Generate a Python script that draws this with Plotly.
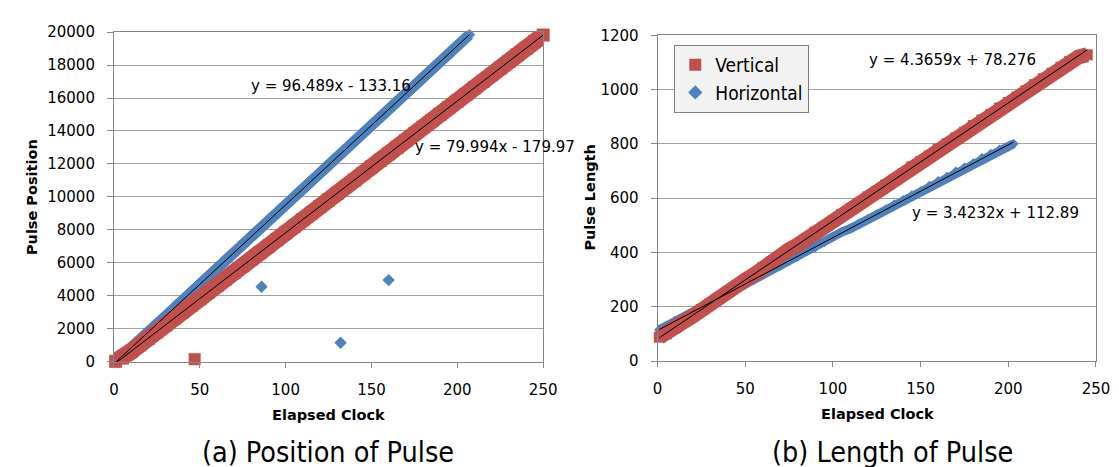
import numpy as np
import plotly.graph_objects as go

W, H = 1119, 467
RED = "#C0504D"
BLUE = "#4F81BD"

# ---------------- data: (a) Position of Pulse ----------------
pos_v_clock = [1, 5, 10, 15, 20, 25, 30, 35, 40, 45, 50, 55, 60, 65, 70, 75, 80, 85, 90, 95,
               100, 105, 110, 115, 120, 125, 130, 135, 140, 145, 150, 155, 160, 165, 170, 175,
               180, 185, 190, 195, 200, 205, 210, 215, 220, 225, 230, 235, 240, 245, 250]
pos_v_value = [20, 220, 620, 1020, 1420, 1820, 2220, 2620, 3020, 3420, 3820, 4220, 4620, 5020,
               5420, 5820, 6220, 6620, 7020, 7420, 7820, 8220, 8620, 9020, 9420, 9820, 10220,
               10620, 11020, 11420, 11820, 12220, 12620, 13020, 13420, 13820, 14220, 14620,
               15020, 15420, 15820, 16220, 16620, 17020, 17420, 17820, 18220, 18620, 19020,
               19420, 19820]
pos_h_clock = [1, 5, 10, 15, 20, 25, 30, 35, 40, 45, 50, 55, 60, 65, 70, 75, 80, 85, 90, 95,
               100, 105, 110, 115, 120, 125, 130, 135, 140, 145, 150, 155, 160, 165, 170, 175,
               180, 185, 190, 195, 200, 205, 207]
pos_h_value = [0, 350, 830, 1315, 1800, 2280, 2760, 3245, 3725, 4210, 4690, 5175, 5660, 6140,
               6620, 7100, 7590, 8070, 8550, 9030, 9515, 10000, 10480, 10960, 11445, 11930,
               12410, 12890, 13375, 13860, 14340, 14820, 15305, 15790, 16270, 16750, 17235,
               17720, 18200, 18680, 19165, 19650, 19840]
pos_v_out_clock = [47]
pos_v_out_value = [150]
pos_h_out_clock = [86, 132, 160]
pos_h_out_value = [4550, 1150, 4950]

# ---------------- data: (b) Length of Pulse ----------------
len_v_clock = [1, 5, 10, 15, 20, 25, 30, 35, 40, 45, 50, 55, 60, 65, 70, 75, 80, 85, 90, 95,
               100, 105, 110, 115, 120, 125, 130, 135, 140, 145, 150, 155, 160, 165, 170, 175,
               180, 185, 190, 195, 200, 205, 210, 215, 220, 225, 230, 235, 240, 245]
len_v_value = [88, 100, 122, 145, 165, 190, 210, 232, 255, 275, 298, 318, 344, 365, 385, 410,
               428, 450, 475, 495, 515, 540, 560, 580, 605, 625, 648, 668, 690, 715, 735, 755,
               780, 800, 822, 843, 867, 888, 908, 932, 952, 973, 995, 1018, 1040, 1060, 1082,
               1103, 1120, 1128]
len_h_clock = [1, 5, 10, 15, 20, 25, 30, 35, 40, 45, 50, 55, 60, 65, 70, 75, 80, 85, 90, 95,
               100, 105, 110, 115, 120, 125, 130, 135, 140, 145, 150, 155, 160, 165, 170, 175,
               180, 185, 190, 195, 200, 203]
len_h_value = [115, 128, 148, 163, 180, 198, 215, 232, 250, 265, 283, 300, 318, 335, 352, 368,
               385, 405, 420, 438, 458, 475, 488, 505, 523, 540, 557, 577, 592, 610, 625, 645,
               662, 678, 697, 712, 728, 747, 763, 778, 790, 800]

eq_labels = ["y = 96.489x - 133.16", "y = 79.994x - 179.97",
             "y = 4.3659x + 78.276", "y = 3.4232x + 112.89"]
series_names = ["Vertical", "Horizontal"]
captions = ["(a) Position of Pulse", "(b) Length of Pulse"]
x_ticks = [0, 50, 100, 150, 200, 250]
pos_ticks = [0, 2000, 4000, 6000, 8000, 10000, 12000, 14000, 16000, 18000, 20000]
len_ticks = [0, 200, 400, 600, 800, 1000, 1200]


def px(x):
    return x / W


def py(y):
    return 1 - y / H


fig = go.Figure()


def band(x, y, color, symbol, size, lw, xa, ya):
    fig.add_trace(go.Scatter(x=x, y=y, mode="lines+markers", xaxis=xa, yaxis=ya,
                             line=dict(color=color, width=lw),
                             marker=dict(color=color, symbol=symbol, size=size),
                             showlegend=False, cliponaxis=False, hoverinfo="skip"))


def trend(x, y, xa, ya):
    a, b = np.polyfit(x, y, 1)
    xs = np.array([min(x), max(x)], dtype=float)
    fig.add_trace(go.Scatter(x=xs, y=a * xs + b, mode="lines", xaxis=xa, yaxis=ya,
                             line=dict(color="black", width=1), showlegend=False,
                             cliponaxis=False, hoverinfo="skip"))


# (a)
band(pos_h_clock, pos_h_value, BLUE, "diamond", 9, 11, "x", "y")
fig.add_trace(go.Scatter(x=pos_h_out_clock, y=pos_h_out_value, mode="markers",
                         marker=dict(color=BLUE, symbol="diamond", size=9.5),
                         showlegend=False, cliponaxis=False, xaxis="x", yaxis="y"))
band(pos_v_clock, pos_v_value, RED, "square", 13, 17, "x", "y")
fig.add_trace(go.Scatter(x=pos_v_out_clock, y=pos_v_out_value, mode="markers",
                         marker=dict(color=RED, symbol="square", size=12),
                         showlegend=False, cliponaxis=False, xaxis="x", yaxis="y"))
trend(pos_h_clock, pos_h_value, "x", "y")
trend(pos_v_clock, pos_v_value, "x", "y")

# (b)
band(len_h_clock, len_h_value, BLUE, "diamond", 8, 9, "x2", "y2")
band(len_v_clock, len_v_value, RED, "square", 11, 15, "x2", "y2")
trend(len_h_clock, len_h_value, "x2", "y2")
trend(len_v_clock, len_v_value, "x2", "y2")

# legend entries
fig.add_trace(go.Scatter(x=[None], y=[None], mode="markers", name=series_names[0],
                         marker=dict(color=RED, symbol="square", size=12),
                         xaxis="x2", yaxis="y2", legendrank=1))
fig.add_trace(go.Scatter(x=[None], y=[None], mode="markers", name=series_names[1],
                         marker=dict(color=BLUE, symbol="diamond", size=11),
                         xaxis="x2", yaxis="y2", legendrank=2))

TICKFONT = dict(family="DejaVu Sans", size=15, color="black")
GRID = "#a0a0a0"
LINE = "#868686"

xcommon = dict(range=[0, 250], tickvals=x_ticks, ticktext=[str(v) for v in x_ticks],
               showgrid=False, zeroline=False,
               showline=True, linecolor=LINE, linewidth=1, mirror=True,
               ticks="outside", ticklen=5, tickcolor=LINE, tickfont=TICKFONT,
               ticklabelstandoff=9, fixedrange=True)
ycommon = dict(showgrid=True, gridcolor=GRID, gridwidth=1, zeroline=False,
               showline=True, linecolor=LINE, linewidth=1, mirror=True,
               ticks="outside", ticklen=6, tickcolor=LINE, tickfont=TICKFONT,
               ticklabelstandoff=9, fixedrange=True)

fig.update_layout(
    width=W, height=H,
    margin=dict(l=0, r=0, t=0, b=0),
    paper_bgcolor="white", plot_bgcolor="white",
    xaxis=dict(domain=[px(102.7), px(539.3)], anchor="y", **xcommon),
    yaxis=dict(domain=[py(358.5), py(15.7)], anchor="x", range=[0, 20000],
               tickvals=pos_ticks, ticktext=[str(v) for v in pos_ticks], **ycommon),
    xaxis2=dict(domain=[px(655.7), px(1101.7)], anchor="y2", **xcommon),
    yaxis2=dict(domain=[py(357.8), py(19)], anchor="x2", range=[0, 1200],
                tickvals=len_ticks, ticktext=[str(v) for v in len_ticks], **ycommon),
    legend=dict(x=px(672.7), y=py(29), xanchor="left", yanchor="top",
                bgcolor="#f2f2f2", bordercolor="#7f7f7f", borderwidth=1,
                font=dict(family="DejaVu Sans Condensed, DejaVu Sans", size=19, color="black")),
    showlegend=True,
)

EQFONT = dict(family="DejaVu Sans", size=15, color="black")
ann = []
for text, xl, yc in [(eq_labels[0], 240, 72), (eq_labels[1], 407, 135),
                     (eq_labels[2], 869, 45), (eq_labels[3], 912, 204)]:
    ann.append(dict(text=text, x=px(xl), y=py(yc), xref="paper", yref="paper",
                    xanchor="left", yanchor="middle", showarrow=False, font=EQFONT))

TITLEFONT = dict(family="DejaVu Sans", size=14.5, color="black", weight="bold")
for xc, yc in [(321, 414), (879, 413)]:
    ann.append(dict(text="Elapsed Clock", x=px(xc), y=py(yc), xref="paper", yref="paper",
                    xanchor="center", yanchor="middle", showarrow=False, font=TITLEFONT))
for text, xc, yc in [("Pulse Position", 19.6, 187), ("Pulse Length", 586.8, 188)]:
    ann.append(dict(text=text, x=px(xc), y=py(yc), xref="paper", yref="paper",
                    xanchor="center", yanchor="middle", showarrow=False, textangle=-90,
                    font=TITLEFONT))

CAPFONT = dict(family="DejaVu Sans Condensed, DejaVu Sans", size=28.5, color="black")
for text, xc, yc in [(captions[0], 320, 453), (captions[1], 895, 453)]:
    ann.append(dict(text=text, x=px(xc), y=py(yc), xref="paper", yref="paper",
                    xanchor="center", yanchor="middle", showarrow=False, font=CAPFONT))

fig.update_layout(annotations=ann)
fig.write_html("out.html")
